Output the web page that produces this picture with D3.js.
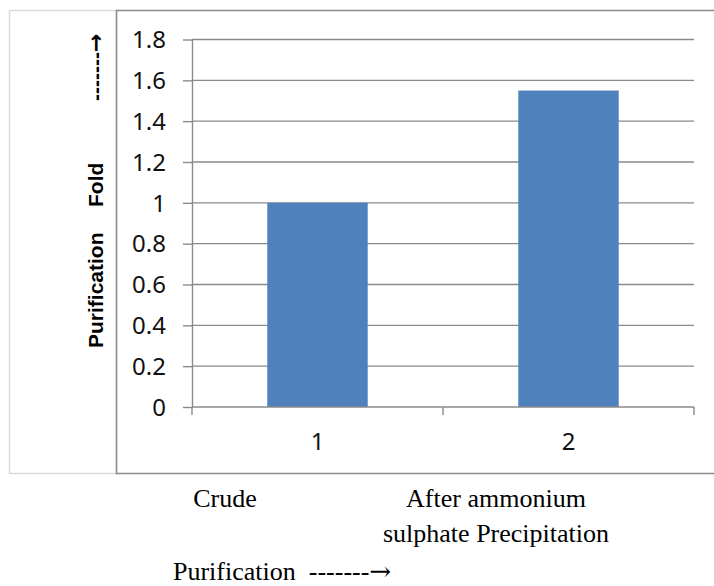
<!DOCTYPE html>
<html>
<head>
<meta charset="utf-8">
<script src="https://cdn.jsdelivr.net/npm/d3@7"></script>
<style>
  html, body { margin: 0; padding: 0; background: #fff; }
  svg { display: block; }
</style>
</head>
<body>
<svg id="chart" width="714" height="586"></svg>
<script>
// ---- data ----
const categories = ["1", "2"];
const values = [1.0, 1.55];
const yTicks = [0, 0.2, 0.4, 0.6, 0.8, 1, 1.2, 1.4, 1.6, 1.8];
const stageLabels = [["Crude"], ["After ammonium", "sulphate Precipitation"]];
const yTitle = ["Purification", "Fold"];
const dashes = "-------";
const arrow = "\u2192";
const xTitle = "Purification  ";

const svg = d3.select("#chart");

// frames
svg.append("rect").attr("x", 9.5).attr("y", 10.5).attr("width", 107).attr("height", 463)
  .attr("fill", "none").attr("stroke", "#d9d9d9").attr("stroke-width", 1.5);
svg.append("path").attr("d", "M714,10.5 H116.5 V473.5 H714")
  .attr("fill", "none").attr("stroke", "#8c8c8c").attr("stroke-width", 1.5);

const x = d3.scaleBand().domain(categories).range([192, 694]).paddingInner(0.6).paddingOuter(0.3);
const xEdge = d3.scaleLinear().domain([0, categories.length]).range([192, 694]);
const y = d3.scaleLinear().domain([0, 1.8]).range([407, 39.5]);

// gridlines
svg.append("g").selectAll("line").data(yTicks.filter(d => d > 0)).join("line")
  .attr("x1", 192).attr("x2", 694)
  .attr("y1", d => y(d)).attr("y2", d => y(d))
  .attr("stroke", "#8a8a8a").attr("stroke-width", 1.4);

// bars
svg.append("g").selectAll("rect").data(values).join("rect")
  .attr("x", (d, i) => x(categories[i]))
  .attr("width", x.bandwidth())
  .attr("y", d => y(d))
  .attr("height", d => y(0) - y(d))
  .attr("fill", "#4f81bd");

// y axis
const yAxis = d3.axisLeft(y).tickValues(yTicks).tickSize(9).tickSizeOuter(0).tickPadding(17)
  .tickFormat(d => d3.format("~g")(d));
const gy = svg.append("g").attr("transform", "translate(192,0)").call(yAxis);
gy.select(".domain").attr("stroke", "#8a8a8a").attr("stroke-width", 1.4);
gy.selectAll(".tick line").attr("stroke", "#8a8a8a").attr("stroke-width", 1.4);
gy.selectAll(".tick text").attr("font-family", "'Noto Sans', sans-serif").attr("font-size", 24)
  .attr("fill", "#111").attr("dy", "0.34em");

// x axis
const gx = svg.append("g").attr("transform", "translate(0,407)");
gx.append("line").attr("x1", 192).attr("x2", 694).attr("stroke", "#8a8a8a").attr("stroke-width", 1.4);
gx.selectAll("line.t").data(d3.range(categories.length + 1)).join("line").attr("class", "t")
  .attr("x1", d => xEdge(d)).attr("x2", d => xEdge(d)).attr("y1", 0).attr("y2", 8)
  .attr("stroke", "#8a8a8a").attr("stroke-width", 1.4);
gx.selectAll("text").data(categories).join("text")
  .attr("x", d => x(d) + x.bandwidth() / 2).attr("y", 43)
  .attr("text-anchor", "middle")
  .attr("font-family", "'Noto Sans', sans-serif").attr("font-size", 24).attr("fill", "#111")
  .text(d => d);

// y title (rotated, bold)
const ytPos = [[103, 348], [103, 207]];
svg.append("g").selectAll("text").data(yTitle).join("text")
  .attr("transform", (d, i) => `translate(${ytPos[i][0]},${ytPos[i][1]}) rotate(-90)`)
  .attr("font-family", "'Liberation Sans', Arial, sans-serif").attr("font-weight", "bold")
  .attr("font-size", 21).attr("fill", "#000")
  .text(d => d);
const ya = svg.append("text").attr("transform", "translate(103,101) rotate(-90)")
  .attr("font-weight", "bold").attr("font-size", 21).attr("fill", "#000");
ya.append("tspan").attr("font-family", "'Liberation Sans', Arial, sans-serif").text(dashes);
ya.append("tspan").attr("font-family", "'DejaVu Sans', sans-serif").attr("font-size", 22).text(arrow);

// stage labels below chart (serif)
const stageX = [225, 496];
stageLabels.forEach((lines, i) => {
  lines.forEach((ln, j) => {
    svg.append("text")
      .attr("x", stageX[i]).attr("y", 507 + j * 35)
      .attr("text-anchor", "middle")
      .attr("font-family", "'Liberation Serif', 'Times New Roman', serif")
      .attr("font-size", 26).attr("fill", "#000")
      .text(ln);
  });
});

const xt = svg.append("text").attr("x", 173).attr("y", 580)
  .attr("font-family", "'Liberation Serif', 'Times New Roman', serif")
  .attr("font-size", 26).attr("fill", "#000")
  .attr("xml:space", "preserve").style("white-space", "pre");
xt.append("tspan").text(xTitle + dashes);
xt.append("tspan").attr("font-family", "'DejaVu Serif', serif").attr("font-size", 26).text(arrow);
</script>
</body>
</html>
